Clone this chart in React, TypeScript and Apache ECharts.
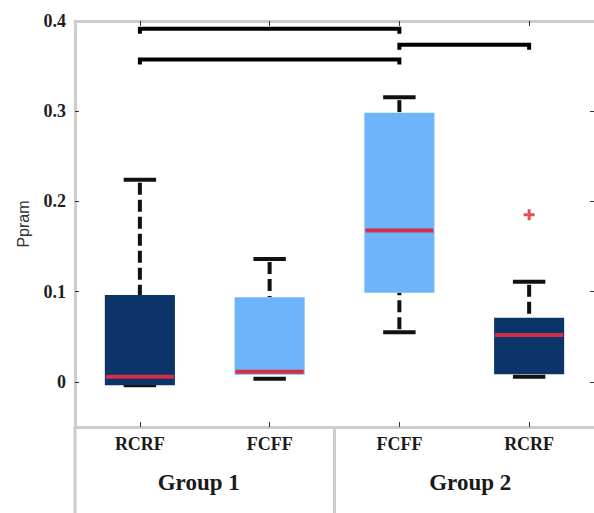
import React, { useEffect, useRef } from "react";
import * as echarts from "echarts";

const categories = ["RCRF", "FCFF", "FCFF", "RCRF"];
const groups = ["Group 1", "Group 2"];
const lowWhisker = [-0.0037, 0.0036, 0.0549, 0.0056];
const q1 = [-0.0037, 0.008, 0.0989, 0.0086];
const median = [0.0056, 0.0113, 0.1678, 0.0519];
const q3 = [0.0963, 0.0938, 0.2982, 0.0711];
const highWhisker = [0.2241, 0.1363, 0.3156, 0.1111];
const outlierCat = [3];
const outlierVal = [0.1852];
const bracketFrom = [0, 0, 2];
const bracketTo = [2, 2, 3];
const bracketY = [0.3914, 0.3574, 0.3736];
const yTicks = [0, 0.1, 0.2, 0.3, 0.4];
const boxColors = ["#0b3568", "#6db5fa", "#6db5fa", "#0b3568"];

const GRAY = "#cccccc";
const SERIF = '"Liberation Serif", "Times New Roman", serif';

export default function App() {
  const ref = useRef<HTMLDivElement>(null);
  useEffect(() => {
    if (!ref.current) return;
    const chart = echarts.init(ref.current, null, { renderer: "svg" });
    const boxData = categories.map((_, i) => [i, lowWhisker[i], q1[i], median[i], q3[i], highWhisker[i]]);
    const bracketData = bracketY.map((y, i) => [bracketFrom[i], bracketTo[i], y]);
    const outlierData = outlierCat.map((c, i) => [c, outlierVal[i]]);

    const option: any = {
      animation: false,
      backgroundColor: "#ffffff",
      grid: { left: 75, right: 0, top: 21, bottom: 86, containLabel: false, outerBoundsMode: "none" },
      xAxis: [
        {
          type: "category",
          data: categories,
          position: "bottom",
          boundaryGap: true,
          axisLine: { show: true, onZero: false, lineStyle: { color: GRAY, width: 3 } },
          axisTick: { show: true, inside: true, alignWithLabel: true, length: 5, lineStyle: { color: "#333", width: 1 } },
          axisLabel: { fontFamily: SERIF, fontWeight: "bold", fontSize: 18, color: "#1a1a1a", margin: 8 },
          splitLine: { show: false },
          z: 5,
        },
        {
          type: "category",
          data: categories,
          position: "top",
          boundaryGap: true,
          axisLine: { show: true, onZero: false, lineStyle: { color: GRAY, width: 3 } },
          axisTick: { show: true, inside: true, alignWithLabel: true, length: 5, lineStyle: { color: "#333", width: 1 } },
          axisLabel: { show: false },
          splitLine: { show: false },
          z: 5,
        },
      ],
      yAxis: [
        {
          type: "value",
          min: -0.05,
          max: 0.4,
          position: "left",
          name: "Ppram",
          nameLocation: "middle",
          nameGap: 44,
          nameTextStyle: { fontFamily: '"Liberation Sans", Arial, sans-serif', fontSize: 16, color: "#333" },
          axisLine: { show: true, onZero: false, lineStyle: { color: GRAY, width: 3 } },
          axisTick: { show: true, inside: true, length: 4, customValues: yTicks, lineStyle: { color: "#333", width: 1 } },
          axisLabel: { customValues: yTicks, fontFamily: SERIF, fontWeight: "bold", fontSize: 18, color: "#1e1e1e", margin: 9 },
          splitLine: { show: false },
        },
        {
          type: "value",
          min: -0.05,
          max: 0.4,
          position: "right",
          axisLine: { show: false, onZero: false },
          axisTick: { show: true, inside: true, length: 4, customValues: yTicks, lineStyle: { color: "#333", width: 1 } },
          axisLabel: { show: false },
          splitLine: { show: false },
        },
      ],
      series: [
        {
          type: "custom",
          name: "box",
          clip: false,
          data: boxData,
          encode: { x: 0, y: [1, 2, 3, 4, 5] },
          renderItem: (params: any, api: any) => {
            const i = api.value(0);
            const cx = api.coord([i, 0])[0];
            const band = api.size([1, 0])[0];
            const y = (v: number) => api.coord([i, v])[1];
            const yLow = y(api.value(1));
            const yQ1 = y(api.value(2));
            const yMed = y(api.value(3));
            const yQ3 = y(api.value(4));
            const yHigh = y(api.value(5));
            const boxW = band * 0.54;
            const capW = band * 0.25;
            const children: any[] = [];
            const whisker = { stroke: "#111", lineWidth: 4, lineDash: [12, 5] };
            if (yQ3 - yHigh > 8) {
              children.push({ type: "line", shape: { x1: cx, y1: yHigh + 3, x2: cx, y2: yQ3 }, style: whisker });
            }
            if (yLow - yQ1 > 8) {
              children.push({ type: "line", shape: { x1: cx, y1: yLow - 3, x2: cx, y2: yQ1 }, style: whisker });
            }
            children.push({ type: "line", shape: { x1: cx - capW / 2, y1: yHigh, x2: cx + capW / 2, y2: yHigh }, style: { stroke: "#111", lineWidth: 4 } });
            children.push({ type: "line", shape: { x1: cx - capW / 2, y1: yLow, x2: cx + capW / 2, y2: yLow }, style: { stroke: "#111", lineWidth: 4 } });
            children.push({
              type: "rect",
              shape: { x: cx - boxW / 2, y: yQ3, width: boxW, height: yQ1 - yQ3 },
              style: { fill: boxColors[params.dataIndex] },
            });
            children.push({
              type: "line",
              shape: { x1: cx - boxW / 2 + 1, y1: yMed, x2: cx + boxW / 2 - 1, y2: yMed },
              style: { stroke: "#d42f45", lineWidth: 4 },
            });
            return { type: "group", children };
          },
        },
        {
          type: "custom",
          name: "brackets",
          clip: false,
          data: bracketData,
          encode: { x: [0, 1], y: 2 },
          renderItem: (params: any, api: any) => {
            const p1 = api.coord([api.value(0), api.value(2)]);
            const p2 = api.coord([api.value(1), api.value(2)]);
            return {
              type: "polyline",
              shape: { points: [[p1[0], p1[1] + 5], [p1[0], p1[1]], [p2[0], p2[1]], [p2[0], p2[1] + 5]] },
              style: { stroke: "#000", lineWidth: 4, fill: "none", lineJoin: "miter", lineCap: "butt" },
            };
          },
        },
        {
          type: "scatter",
          name: "outlier",
          data: outlierData,
          symbol: "path://M4,0H7V4H11V7H7V11H4V7H0V4H4Z",
          symbolSize: 11,
          itemStyle: { color: "#d8262e" },
        },
      ],
    };
    chart.setOption(option);

    const c = categories.map((_, i) => chart.convertToPixel({ xAxisIndex: 0 }, i) as number);
    const band = c[1] - c[0];
    const left = c[0] - band / 2;
    const sep = (c[1] + c[2]) / 2;
    const bottomY = chart.convertToPixel({ yAxisIndex: 0 }, -0.05) as number;
    const g1 = (c[0] + c[1]) / 2 - 6;
    const g2 = (c[2] + c[3]) / 2 + 6;
    const groupStyle = (text: string) => ({
      text,
      fontFamily: SERIF,
      fontWeight: "bold",
      fontSize: 23,
      fill: "#1a1a1a",
      align: "center",
      verticalAlign: "middle",
    });
    chart.setOption({
      graphic: [
        { type: "line", shape: { x1: left, y1: bottomY, x2: left, y2: 513 }, style: { stroke: GRAY, lineWidth: 3 } },
        { type: "line", shape: { x1: sep, y1: bottomY, x2: sep, y2: 513 }, style: { stroke: GRAY, lineWidth: 3 } },
        { type: "text", x: g1, y: bottomY + 55, style: groupStyle(groups[0]) },
        { type: "text", x: g2, y: bottomY + 55, style: groupStyle(groups[1]) },
      ],
    });
    return () => chart.dispose();
  }, []);
  return <div ref={ref} style={{ position: "fixed", left: 0, top: 0, width: 594, height: 513, background: "#fff" }} />;
}
